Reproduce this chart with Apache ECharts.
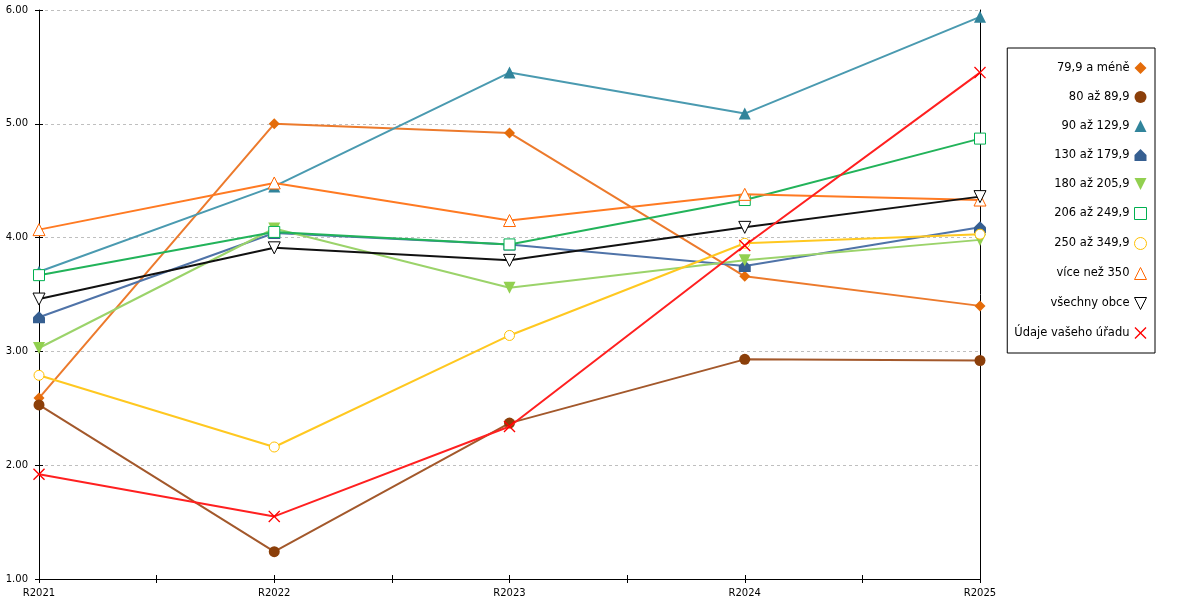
<!DOCTYPE html>
<html>
<head>
<meta charset="utf-8">
<script src="https://cdn.jsdelivr.net/npm/echarts@6/dist/echarts.min.js"></script>
<style>
  html, body { margin: 0; padding: 0; background: #fff; }
  #chart { width: 1200px; height: 600px; }
</style>
</head>
<body>
<div id="chart"></div>
<script>
const years = ['R2021', 'R2022', 'R2023', 'R2024', 'R2025'];

const names = [
    '79,9 a méně', '80 až 89,9', '90 až 129,9', '130 až 179,9', '180 až 205,9',
    '206 až 249,9', '250 až 349,9', 'více než 350', 'všechny obce', 'Údaje vašeho úřadu'
];

const upTo79 = [2.59, 5.00, 4.92, 3.66, 3.40];
const from80 = [2.53, 1.24, 2.37, 2.93, 2.92];
const from90 = [3.70, 4.45, 5.45, 5.09, 5.94];
const from130 = [3.30, 4.04, 3.94, 3.75, 4.09];
const from180 = [3.03, 4.08, 3.56, 3.80, 3.98];
const from206 = [3.67, 4.05, 3.94, 4.33, 4.87];
const from250 = [2.79, 2.16, 3.14, 3.95, 4.03];
const over350 = [4.07, 4.48, 4.15, 4.38, 4.33];
const allTowns = [3.46, 3.91, 3.80, 4.09, 4.36];
const yourOffice = [1.92, 1.55, 2.34, 3.93, 5.45];

const yTicks = { min: 1, max: 6, step: 1 };

// styl: barva čáry, značka, barva značky
const X_MARK = 'path://M0,0.8L0.8,0L5,4.2L9.2,0L10,0.8L5.8,5L10,9.2L9.2,10L5,5.8L0.8,10L0,9.2L4.2,5Z';
const STYLE = [
    { line: '#EC7A2C', symbol: 'diamond', size: 11, fill: '#E46C0A', stroke: '#E46C0A' },
    { line: '#A3582B', symbol: 'circle', size: 11, fill: '#8B3F0A', stroke: '#8B3F0A' },
    { line: '#4A9AB0', symbol: 'triangle', size: 12, fill: '#31849B', stroke: '#31849B' },
    { line: '#4F73A8', symbol: 'path://M0,5L5,0L10,5L10,10L0,10Z', size: 12, fill: '#365F91', stroke: '#365F91' },
    { line: '#9BD36A', symbol: 'path://M0,0L10,0L5,10Z', size: 12, fill: '#92D050', stroke: '#92D050' },
    { line: '#22B35A', symbol: 'rect', size: 11, fill: '#fff', stroke: '#00B050', empty: true },
    { line: '#FFC820', symbol: 'circle', size: 10, fill: '#fff', stroke: '#FFC000', empty: true },
    { line: '#FF7A22', symbol: 'triangle', size: 12, fill: '#fff', stroke: '#FF6600', empty: true },
    { line: '#111111', symbol: 'path://M0,0L10,0L5,10Z', size: 12, fill: '#fff', stroke: '#000', empty: true },
    { line: '#FF2020', symbol: X_MARK, size: 12, fill: '#FF0000', stroke: '#FF0000' }
];

const values = [upTo79, from80, from90, from130, from180, from206, from250, over350, allTowns, yourOffice];

const chart = echarts.init(document.getElementById('chart'));

const gridRect = { left: 39, right: 220, top: 10, bottom: 21 };

const series = values.map((data, i) => {
    const s = STYLE[i];
    return {
        name: names[i],
        type: 'line',
        xAxisIndex: 0,
        yAxisIndex: 0,
        data: data,
        symbol: s.symbol,
        symbolSize: s.size,
        showAllSymbol: true,
        lineStyle: { color: s.line, width: 2 },
        itemStyle: { color: s.fill, borderColor: s.stroke, borderWidth: s.empty ? 1 : 0 },
        emphasis: { disabled: true },
        z: 2 + i
    };
});

const legendData = names.map((n, i) => {
    const s = STYLE[i];
    return {
        name: n,
        icon: s.symbol,
        itemStyle: { color: s.fill, borderColor: s.stroke, borderWidth: s.empty ? 1 : 0 }
    };
});

const noAxisParts = { axisLine: { show: false }, axisLabel: { show: false }, splitLine: { show: false } };

chart.setOption({
    backgroundColor: '#ffffff',
    animation: false,
    textStyle: { fontFamily: 'DejaVu Sans' },
    grid: [Object.assign({}, gridRect), Object.assign({}, gridRect)],
    legend: {
        orient: 'vertical',
        right: 45,
        top: 48,
        align: 'right',
        data: legendData,
        itemWidth: 12,
        itemHeight: 12,
        itemGap: 17,
        padding: [14, 8, 14, 7],
        borderColor: '#000',
        borderWidth: 1,
        backgroundColor: '#fff',
        textStyle: { fontSize: 11.5, color: '#000', fontFamily: 'DejaVu Sans' },
        selectedMode: false
    },
    xAxis: [
        {
            type: 'category', gridIndex: 0, data: years, boundaryGap: false,
            axisLine: { lineStyle: { color: '#000', width: 1 } },
            axisTick: { show: false },
            axisLabel: { color: '#000', fontSize: 10, margin: 9 },
            splitLine: { show: false }
        },
        // křížící se značky na ose x po půl kategorie
        Object.assign({
            type: 'value', gridIndex: 1, position: 'bottom', offset: -4,
            min: 0, max: years.length - 1, interval: 0.5,
            axisTick: { show: true, length: 8, lineStyle: { color: '#000' } }
        }, noAxisParts)
    ],
    yAxis: [
        {
            type: 'value', gridIndex: 0, min: yTicks.min, max: yTicks.max, interval: yTicks.step,
            axisLine: { show: true, lineStyle: { color: '#000', width: 1 } },
            axisTick: { show: false },
            axisLabel: { color: '#000', fontSize: 10, margin: 11, formatter: v => v.toFixed(2) },
            splitLine: { show: true, lineStyle: { color: '#BFBFBF', type: [3, 3], width: 1 } }
        },
        Object.assign({
            type: 'value', gridIndex: 1, position: 'left', offset: -4,
            min: yTicks.min, max: yTicks.max, interval: yTicks.step,
            axisTick: { show: true, length: 8, lineStyle: { color: '#000' } }
        }, noAxisParts),
        {
            type: 'value', gridIndex: 1, position: 'right', min: yTicks.min, max: yTicks.max, interval: yTicks.step,
            axisLine: { show: true, onZero: false, lineStyle: { color: '#000', width: 1 } },
            axisTick: { show: false }, axisLabel: { show: false }, splitLine: { show: false }
        }
    ],
    series: series
});

window.addEventListener('resize', () => chart.resize());
</script>
</body>
</html>
